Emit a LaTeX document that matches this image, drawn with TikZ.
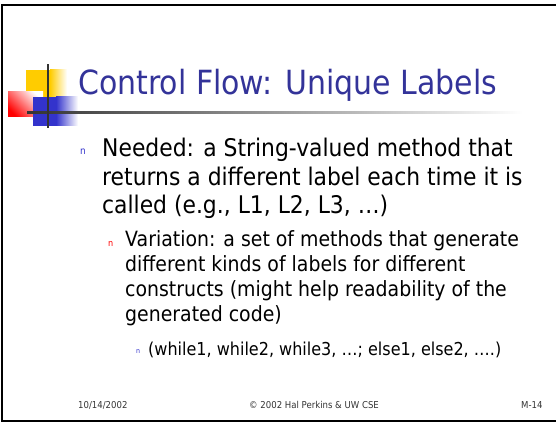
\documentclass[tikz,border=0pt]{standalone}
\usepackage{fontspec}
\setmainfont{DejaVu Sans}[FakeStretch=0.9]
\usepackage{tikz}
\usetikzlibrary{positioning}
\definecolor{blue700}{HTML}{333399}
\definecolor{blue500}{HTML}{3333CC}
\definecolor{gold400}{HTML}{FFCC00}
\definecolor{red500} {HTML}{FF0000}
\definecolor{grey800}{HTML}{333333}
\newcommand{\fsz}[1]{\fontsize{#1}{#1}\selectfont}
\tikzset{
  ttl/.style   ={font=\fsz{33.3}, text=blue700, anchor=base west, inner sep=0pt},
  lvlone/.style={font=\fsz{24.3}, anchor=base west, inner sep=0pt},
  lvltwo/.style={font=\fsz{21}, anchor=base west, inner sep=0pt},
  lvlthr/.style={font=\fsz{17.8}, anchor=base west, inner sep=0pt},
  bulone/.style={font=\fsz{10}, text=blue500, anchor=base west, inner sep=0pt},
  bultwo/.style={font=\fsz{9},  text=red500,  anchor=base west, inner sep=0pt},
  bulthr/.style={font=\fsz{7},  text=blue500, anchor=base west, inner sep=0pt},
  foot/.style  ={font=\fsz{9.5}, text=grey800, anchor=base west, inner sep=0pt},
  frame/.style ={line width=2pt, line cap=rect}
}
\begin{document}
\begin{tikzpicture}[x=1pt, y=-1pt]
\useasboundingbox (0,0) rectangle (556,422);
% slide frame
\draw[frame] (556,5) -- (2,5) -- (2,421) -- (556,421);

% logo
\fill[gold400] (26,70) rectangle (50,97);
\shade[left color=gold400, right color=white] (50,70) rectangle (67,97);
\shade[top color=red500, bottom color=white, shading angle=135]
  (8,92) rectangle (43,117);
\fill[blue500] (33,97) rectangle (56,126);
\shade[left color=blue500, right color=white] (56,97) rectangle (78,126);
\shade[left color=grey800, right color=white] (27,112) rectangle (523,114);
\fill[grey800] (47,64) rectangle (49,128);

% title
\node[ttl] (title) at (78,95) {Control Flow: Unique Labels};

% first level
\node[bulone] (b1) at (80,155) {n};
\foreach \t [count=\i] in {{Needed: a String-valued method that},
                           {returns a different label each time it is},
                           {called (e.g., L1, L2, L3, …)}}
  \node[lvlone] (need\i) at (102,{157+28.4*(\i-1)}) {\t};

% second level
\node[bultwo] (b2) at (108,246) {n};
\foreach \t [count=\i] in {{Variation: a set of methods that generate},
                           {different kinds of labels for different},
                           {constructs (might help readability of the},
                           {generated code)}}
  \node[lvltwo] (var\i) at (125,{246+25.3*(\i-1)}) {\t};

% third level
\node[bulthr] (b3) at (136,353) {n};
\node[lvlthr] (ex) at (148,355) {(while1, while2, while3, …; else1, else2, ….)};

% footer
\node[foot] (date) at (78,408) {10/14/2002};
\node[foot] (copy) at (249,408) {© 2002 Hal Perkins \& UW CSE};
\node[foot] (page) at (521,408) {M-14};
\end{tikzpicture}
\end{document}
